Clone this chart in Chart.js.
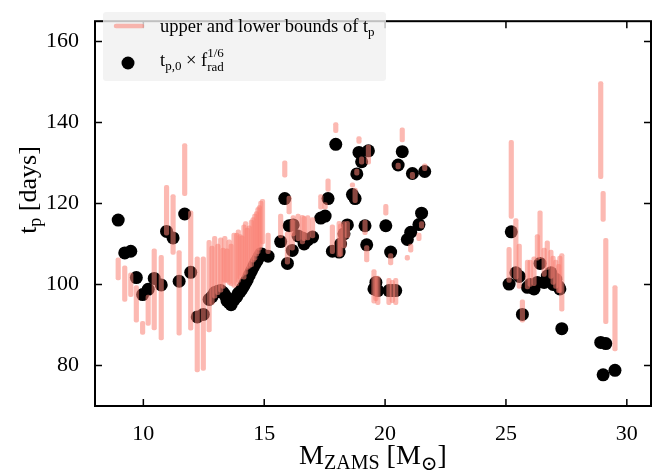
<!DOCTYPE html>
<html>
<head>
<meta charset="utf-8">
<script src="https://cdn.jsdelivr.net/npm/chart.js@4.4.0/dist/chart.umd.min.js"></script>
<style>
  html, body { margin: 0; padding: 0; background: #fff; }
  #wrap { width: 665px; height: 474px; }
</style>
</head>
<body>
<div id="wrap"><canvas id="myChart" width="665" height="474"></canvas></div>
<script>
// ZAMS mass [Msun]
const mass = [
  8.96, 9.23, 9.48, 9.71, 9.97, 10.2, 10.45, 10.74, 10.96, 11.23, 11.48, 11.71, 11.96, 12.23, 12.48,
  12.72, 12.84, 12.95, 13.08, 13.2, 13.3, 13.37, 13.46, 13.55, 13.63, 13.75, 13.86, 13.93, 14.0, 14.08,
  14.16, 14.23, 14.3, 14.38, 14.47, 14.54, 14.61, 14.68, 14.74, 14.8, 14.86, 14.93, 15.16,
  15.68, 15.85, 15.96, 16.03, 16.16, 16.2, 16.4, 16.58, 16.65, 16.8, 17.0, 17.34, 17.52, 17.64, 17.82, 17.96,
  18.1, 18.16, 18.3, 18.44, 18.65, 18.76, 18.83, 18.92, 19.03, 19.17, 19.24, 19.31, 19.54, 19.62, 19.7,
  20.03, 20.16, 20.23, 20.3, 20.44, 20.54, 20.71, 20.92, 21.06, 21.13, 21.4, 21.51, 21.64,
  25.13, 25.22, 25.41, 25.55, 25.68, 25.89, 26.0, 26.16, 26.3, 26.41, 26.58, 26.71, 26.86, 26.95, 27.06,
  27.18, 27.23, 27.31, 28.92, 29.02, 29.13, 29.51
];
// t_p,0 x f_rad^(1/6) [days]
const tpScaled = [
  115.9, 107.8, 108.2, 101.7, 97.5, 98.8, 101.5, 99.9, 113.1, 111.5, 100.8, 117.4, 103.0, 92.0, 92.6,
  96.3, 97.0, 98.0, 98.3, 98.5, 98.0, 97.4, 96.0, 95.5, 95.0, 96.2, 97.0, 97.8, 98.2, 98.9,
  99.7, 100.5, 101.2, 102.3, 103.3, 104.2, 105.0, 105.7, 106.3, 107.0, 107.6, 107.4, 107.0,
  110.6, 121.2, 105.2, 114.5, 108.4, 114.7, 112.0, 111.5, 110.0, 111.0, 111.7, 116.4, 116.9, 121.2, 108.2, 134.6,
  108.0, 110.0, 112.5, 114.7, 122.2, 121.2, 127.3, 132.6, 130.3, 114.5, 109.8, 133.0, 98.9, 100.5, 98.5,
  114.5, 98.5, 108.0, 98.5, 98.5, 129.5, 132.8, 111.1, 112.9, 127.4, 114.8, 117.6, 127.9,
  100.1, 113.0, 102.9, 102.0, 92.6, 99.3, 100.0, 98.9, 100.5, 105.2, 100.5, 102.1, 102.9, 100.0, 101.3,
  99.5, 98.9, 89.1, 85.7, 77.7, 85.4, 78.8
];
// lower bound of t_p [days]
const tpLower = [
  101.1, 95.8, 97.0, 90.7, 87.7, 89.9, 88.8, 86.3, 112.2, 107.4, 87.5, 121.9, 88.7, 78.4, 78.8,
  88.3, 95.0, 96.6, 97.5, 98.1, 99.0, 100.5, 100.5, 100.0, 99.7, 99.3, 99.7, 100.5, 101.3, 102.0,
  101.3, 102.5, 103.7, 104.0, 104.4, 105.5, 106.0, 107.0, 107.6, 108.5, 109.2, 110.0, 107.6,
  111.5, 126.5, 105.0, 117.4, 108.5, 112.0, 110.8, 110.0, 110.8, 111.0, 111.5, 118.6, 118.6, 123.0, 107.6, 137.5,
  106.8, 107.0, 109.0, 111.5, 124.0, 120.2, 127.0, 134.8, 129.7, 112.3, 105.6, 129.7, 95.4, 96.0, 95.0,
  117.1, 95.0, 104.8, 95.5, 95.0, 128.5, 135.2, 106.0, 108.0, 126.1, 110.8, 113.9, 128.1,
  100.5, 116.3, 101.3, 99.0, 90.7, 98.9, 99.5, 99.7, 106.0, 106.4, 102.0, 103.7, 101.5, 100.0, 99.0,
  98.0, 98.0, 93.4, 126.1, 115.6, 90.3, 83.6
];
// upper bound of t_p [days]
const tpUpper = [
  106.6, 104.6, 102.9, 99.7, 90.9, 97.4, 108.8, 107.2, 124.5, 122.2, 108.4, 134.8, 118.2, 106.8, 106.8,
  110.9, 109.5, 111.9, 110.0, 111.5, 109.0, 111.9, 108.8, 111.0, 110.0, 112.7, 112.7, 113.5, 112.3, 112.0,
  114.7, 115.5, 113.9, 114.5, 115.9, 116.5, 117.4, 118.0, 119.0, 119.5, 120.6, 121.0, 112.7,
  117.4, 130.5, 113.0, 121.8, 116.0, 117.0, 117.4, 117.1, 116.8, 117.0, 116.5, 122.2, 120.2, 126.1, 114.7, 140.0,
  115.6, 115.0, 115.5, 115.6, 125.1, 123.8, 128.5, 136.5, 131.5, 115.9, 109.6, 134.4, 103.7, 102.0, 102.1,
  119.8, 101.5, 107.6, 101.0, 101.5, 130.0, 138.7, 107.2, 110.0, 127.7, 112.7, 115.5, 129.8,
  109.2, 135.6, 116.3, 110.0, 96.2, 106.0, 106.0, 106.8, 112.3, 118.2, 109.0, 110.8, 108.5, 107.0, 106.0,
  105.0, 107.0, 107.6, 150.1, 123.0, 111.4, 99.7
];

const xTicks = [10, 15, 20, 25, 30];
const yTicks = [80, 100, 120, 140, 160];

const FONT = '"Liberation Serif", "DejaVu Serif", serif';
const BAR_COLOR = 'rgba(250, 128, 114, 0.55)';

// text with sub/superscripts: parts = [text, size, dy, advance]
function drawRich(ctx, parts, x, y, align) {
  let w = 0;
  parts.forEach(p => {
    ctx.font = p[1] + 'px ' + FONT;
    if (p[3] !== false) w += ctx.measureText(p[0]).width;
  });
  let cx = align === 'center' ? x - w / 2 : x;
  parts.forEach(p => {
    ctx.font = p[1] + 'px ' + FONT;
    ctx.fillText(p[0], cx, y + p[2]);
    if (p[3] !== false) cx += ctx.measureText(p[0]).width;
  });
}

const framePlugin = {
  id: 'frame',
  afterDraw(chart) {
    const ctx = chart.ctx;
    const a = chart.chartArea;
    const xs = chart.scales.x, ys = chart.scales.y;
    ctx.save();
    ctx.strokeStyle = '#000';
    ctx.lineWidth = 2;
    ctx.strokeRect(a.left, a.top, a.right - a.left, a.bottom - a.top);
    ctx.lineWidth = 1.5;
    ctx.beginPath();
    xTicks.forEach(v => {
      const px = xs.getPixelForValue(v);
      ctx.moveTo(px, a.bottom); ctx.lineTo(px, a.bottom - 7);
      ctx.moveTo(px, a.top); ctx.lineTo(px, a.top + 7);
    });
    yTicks.forEach(v => {
      const py = ys.getPixelForValue(v);
      ctx.moveTo(a.left, py); ctx.lineTo(a.left + 7, py);
      ctx.moveTo(a.right, py); ctx.lineTo(a.right - 7, py);
    });
    ctx.stroke();

    // axis titles
    ctx.fillStyle = '#000';
    ctx.textBaseline = 'alphabetic';
    drawRich(ctx, [['M', 28, 0], ['ZAMS', 20, 5], [' [M', 28, 0], ['\u2299', 20, 6], [']', 28, 0]],
      (a.left + a.right) / 2, 464, 'center');
    ctx.save();
    ctx.translate(36, 190);
    ctx.rotate(-Math.PI / 2);
    drawRich(ctx, [['t', 26, 0], ['p', 18, 5], [' [days]', 26, 0]], 0, 0, 'center');
    ctx.restore();

    // legend
    ctx.fillStyle = 'rgba(240, 240, 240, 0.8)';
    ctx.beginPath();
    ctx.roundRect(103, 12, 283, 69, 3);
    ctx.fill();
    ctx.strokeStyle = BAR_COLOR;
    ctx.lineWidth = 4.5;
    ctx.lineCap = 'round';
    ctx.beginPath();
    ctx.moveTo(116, 26); ctx.lineTo(142, 26);
    ctx.stroke();
    ctx.fillStyle = '#000';
    ctx.beginPath();
    ctx.arc(128, 63, 6.5, 0, Math.PI * 2);
    ctx.fill();
    drawRich(ctx, [['upper and lower bounds of t', 18.5, 0], ['p', 13, 4]], 160, 32, 'left');
    drawRich(ctx, [['t', 18.5, 0], ['p,0', 13, 4], [' \u00d7 f', 18.5, 0], ['1/6', 13, -9, false], ['rad', 13, 5]],
      160, 66, 'left');
    ctx.restore();
  }
};

const data = {
  datasets: [
    {
      type: 'bar',
      label: 'upper and lower bounds of t_p',
      data: mass.map((m, i) => ({ x: m, y: [tpLower[i], tpUpper[i]] })),
      backgroundColor: BAR_COLOR,
      borderWidth: 0,
      borderRadius: 2,
      borderSkipped: false,
      barThickness: 4.5,
      grouped: false,
      order: 0,
    },
    {
      type: 'scatter',
      label: 't_p,0 x f_rad^1/6',
      data: mass.map((m, i) => ({ x: m, y: tpScaled[i] })),
      backgroundColor: '#000',
      borderWidth: 0,
      pointRadius: 6.5,
      pointHoverRadius: 6.5,
      order: 1,
    },
  ],
};

const config = {
  type: 'scatter',
  data: data,
  options: {
    responsive: false,
    devicePixelRatio: 1,
    animation: false,
    layout: { padding: { top: 3, right: 14, left: 0, bottom: 0 } },
    plugins: { legend: { display: false }, tooltip: { enabled: false } },
    scales: {
      x: {
        type: 'linear',
        min: 8,
        max: 31,
        offset: false,
        grid: { display: false, offset: false },
        border: { display: false },
        ticks: { font: { family: FONT, size: 22 }, color: '#000', padding: 7, maxRotation: 0 },
        afterBuildTicks: s => { s.ticks = xTicks.map(v => ({ value: v })); },
        afterFit: s => { s.height = 68; },
      },
      y: {
        type: 'linear',
        min: 70,
        max: 165,
        beginAtZero: false,
        grid: { display: false },
        border: { display: false },
        ticks: { font: { family: FONT, size: 22 }, color: '#000', padding: 8 },
        afterBuildTicks: s => { s.ticks = yTicks.map(v => ({ value: v })); },
        afterFit: s => { s.width = 95; },
      },
    },
  },
  plugins: [framePlugin],
};

const myChart = new Chart(document.getElementById('myChart'), config);
</script>
</body>
</html>
